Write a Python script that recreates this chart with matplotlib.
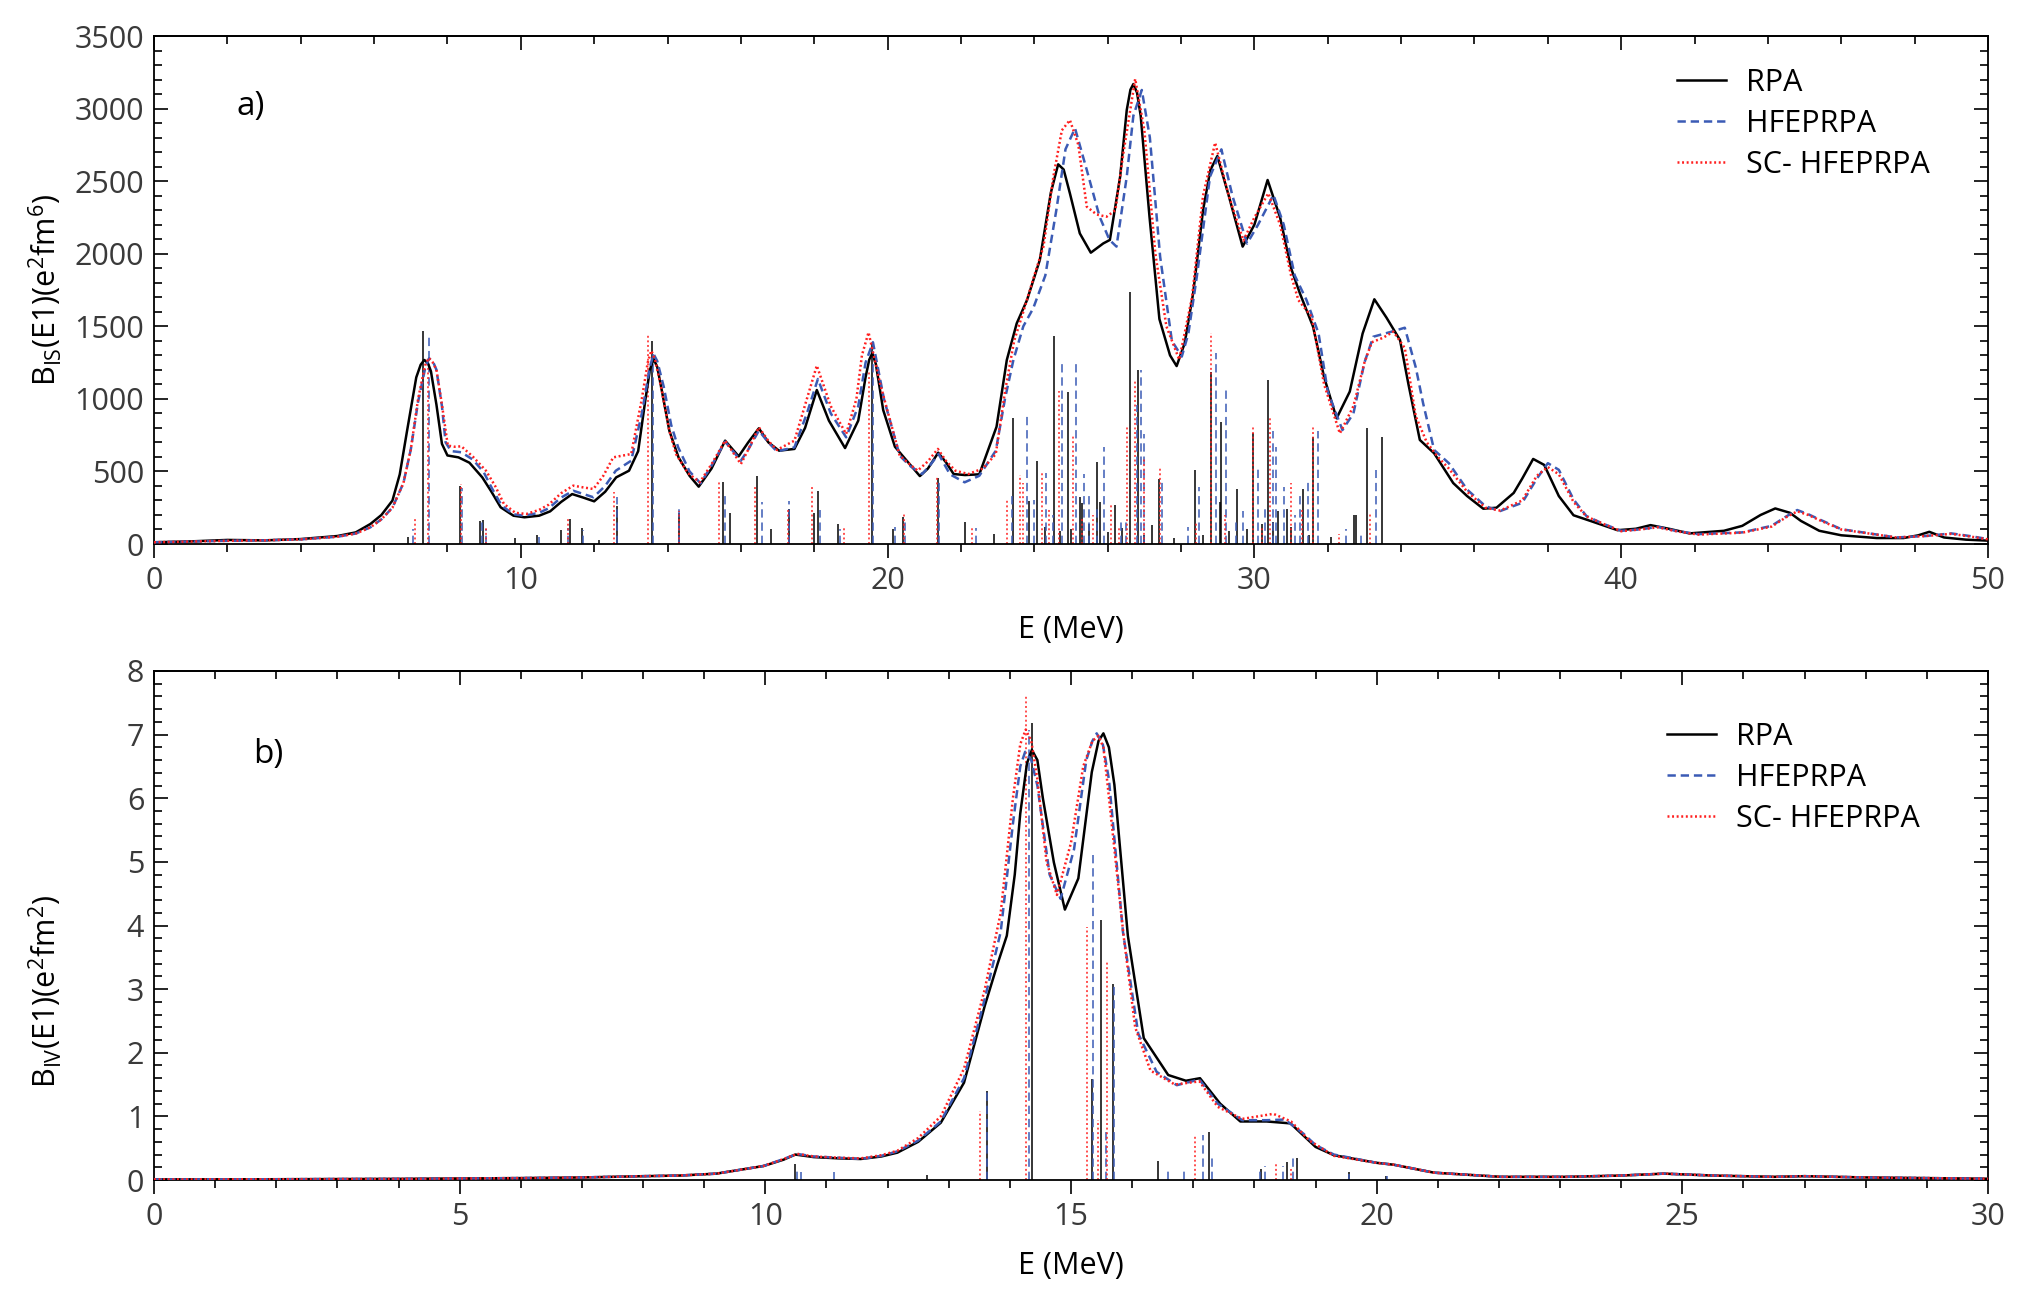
import matplotlib
matplotlib.use('Agg')
import matplotlib.pyplot as plt
from matplotlib.ticker import MultipleLocator

plt.rcParams['font.family'] = ['Open Sans', 'DejaVu Sans']
plt.rcParams['mathtext.default'] = 'regular'
plt.rcParams['lines.scale_dashes'] = False

BLUE = '#3b5bb5'
RED = '#ff1f1f'
DASH = (0, (6, 3.5))
DOT = (0, (1.4, 1.9))

# ---------------- panel a) isoscalar, smoothed curves ----------------
e_rpa_a = [0, 1, 2, 3, 4, 5, 5.5, 5.9, 6.2, 6.5, 6.7, 6.9, 7.15, 7.27, 7.37, 7.47, 7.55, 7.7, 7.85, 8.0, 8.3, 8.6,
           8.95, 9.2, 9.45, 9.8, 10.1, 10.5, 10.8, 11.1, 11.4, 11.7, 12.0, 12.3, 12.6, 12.95, 13.2, 13.4,
           13.52, 13.62, 13.72, 13.85, 14.05, 14.3, 14.6, 14.85, 15.2, 15.57, 15.94, 16.2, 16.49, 16.75, 17.04, 17.46,
           17.75, 18.07, 18.4, 18.84, 19.2, 19.4, 19.5, 19.58, 19.68, 19.88, 20.2, 20.4, 20.88, 21.1, 21.38, 21.6, 21.8,
           22.11, 22.5, 22.97, 23.25, 23.52, 23.8, 24.15, 24.45, 24.65, 24.8, 24.97, 25.24, 25.54, 25.88, 26.06,
           26.34, 26.52, 26.62, 26.7, 26.8, 26.9, 27.14, 27.41, 27.7, 27.88, 28.1, 28.33, 28.6, 28.8, 28.99, 29.3, 29.68,
           30.0, 30.36, 30.7, 31.0, 31.24, 31.6, 31.9, 32.24, 32.6, 32.95, 33.27, 33.6, 33.97, 34.2, 34.51,
           34.9, 35.42, 35.8, 36.24, 36.6, 37.07, 37.3, 37.6, 37.9, 38.3, 38.7, 39.16, 39.9, 40.4, 40.8,
           41.3, 41.86, 42.8, 43.3, 43.8, 44.2, 44.6, 44.9, 45.4, 46.0, 46.97, 47.7, 48.1, 48.4, 48.8, 49.4, 50]
b_rpa_a = [12, 18, 28, 25, 34, 55, 80, 138, 200, 299, 480, 781, 1148, 1235, 1268, 1245, 1190, 960, 690, 610, 597, 560,
           459, 360, 253, 195, 184, 195, 225, 290, 344, 320, 294, 360, 459, 505, 640, 1000,
           1200, 1275, 1220, 1050, 780, 597, 470, 395, 520, 712, 604, 700, 797, 700, 643, 655,
           800, 1061, 850, 661, 850, 1150, 1270, 1314, 1240, 923, 670, 610, 468, 520, 629, 560, 482,
           475, 480, 808, 1268, 1520, 1680, 1957, 2420, 2616, 2580, 2416, 2140, 2007, 2071, 2095,
           2531, 2990, 3130, 3169, 3110, 2950, 2255, 1550, 1300, 1226, 1384, 1727, 2300, 2577, 2673, 2400, 2049,
           2200, 2508, 2250, 1900, 1727, 1497, 1150, 866, 1050, 1450, 1686, 1560, 1405, 1100, 717,
           625, 420, 330, 243, 250, 352, 450, 586, 545, 330, 198, 159, 95, 105, 130,
           105, 73, 91, 125, 200, 245, 215, 159, 91, 60, 41, 41, 60, 84, 45, 30, 23]

e_hfe_a = [0, 1, 2, 3, 4, 5, 5.5, 5.9, 6.2, 6.5, 6.8, 7.0, 7.2, 7.4, 7.5, 7.6, 7.7, 7.85, 7.95, 8.1, 8.38, 8.7,
           8.99, 9.2, 9.48, 9.8, 10.09, 10.5, 10.76, 11.1, 11.43, 11.7, 11.98, 12.3, 12.59, 13.01, 13.3,
           13.52, 13.62, 13.72, 13.9, 14.1, 14.29, 14.6, 14.9, 15.2, 15.57, 16.0, 16.2, 16.49, 16.75, 16.98, 17.46, 17.8,
           18.1, 18.45, 18.87, 19.2, 19.4, 19.6, 19.9, 20.33, 20.6, 20.94, 21.15, 21.39, 21.7, 22.1, 22.5,
           22.95, 23.2, 23.43, 23.7, 23.97, 24.3, 24.6, 24.85, 25.11, 25.43, 25.78, 26.05, 26.24, 26.52,
           26.7, 26.93, 27.15, 27.43, 27.75, 28.02, 28.2, 28.43, 28.79, 29.1, 29.4, 29.8, 30.1, 30.52, 30.8,
           31.1, 31.42, 31.75, 32.0, 32.4, 32.7, 33.0, 33.24, 33.7, 34.1, 34.4, 34.6, 34.9, 35.3, 35.8,
           36.3, 36.7, 37.3, 37.7, 38.0, 38.3, 38.7, 39.05, 39.5, 40.0, 40.5, 41.0, 41.5, 42.1, 43.3, 44.1,
           44.5, 44.8, 45.1, 45.4, 46.0, 47.5, 48.3, 49.0, 49.5, 50]
b_hfe_a = [12, 17, 22, 25, 32, 50, 72, 115, 170, 250, 420, 650, 980, 1220, 1279, 1260, 1200, 950, 700, 640, 632, 580,
           494, 390, 264, 205, 195, 215, 246, 320, 367, 345, 322, 400, 505, 574, 900,
           1220, 1309, 1260, 1080, 820, 666, 500, 418, 540, 705, 574, 650, 781, 700, 638, 666, 900,
           1137, 900, 735, 950, 1250, 1390, 1000, 609, 540, 482, 540, 620, 480, 425, 470,
           643, 1000, 1268, 1500, 1624, 1850, 2300, 2720, 2864, 2577, 2255, 2095, 2049, 2531,
           2950, 3128, 2800, 1980, 1400, 1291, 1450, 1842, 2531, 2719, 2400, 2070, 2200, 2405, 2200,
           1850, 1681, 1450, 1050, 785, 900, 1250, 1428, 1460, 1490, 1216, 969, 648, 557, 375,
           260, 227, 284, 450, 557, 511, 307, 193, 140, 91, 100, 118, 90, 68, 80, 125,
           190, 234, 205, 170, 102, 45, 55, 73, 55, 34]

e_sc_a = [0, 1, 2, 3, 4, 5, 5.5, 5.9, 6.2, 6.5, 6.8, 7.0, 7.2, 7.39, 7.49, 7.59, 7.7, 7.85, 8.01, 8.2, 8.38, 8.7,
          9.05, 9.3, 9.54, 9.85, 10.15, 10.5, 10.76, 11.1, 11.43, 11.7, 11.98, 12.25, 12.52, 13.01, 13.3,
          13.46, 13.56, 13.66, 13.85, 14.05, 14.23, 14.55, 14.88, 15.2, 15.57, 16.0, 16.2, 16.49, 16.75, 16.98, 17.46,
          17.8, 18.07, 18.45, 18.87, 19.15, 19.3, 19.48, 19.8, 20.33, 20.6, 20.82, 21.1, 21.37, 21.6,
          21.85, 22.2, 22.6, 22.95, 23.2, 23.45, 23.7, 24.0, 24.25, 24.52, 24.75, 24.97, 25.2, 25.43,
          25.7, 25.97, 26.21, 26.42, 26.75, 27.0, 27.3, 27.6, 27.95, 28.3, 28.6, 28.93, 29.3, 29.7, 30.0,
          30.38, 30.7, 31.0, 31.2, 31.56, 31.9, 32.33, 32.7, 33.0, 33.2, 33.5, 33.79, 34.1, 34.4, 34.7,
          35.0, 35.3, 35.8, 36.3, 36.7, 37.3, 37.7, 38.0, 38.3, 38.7, 39.05, 39.5, 40.0, 40.5, 41.0,
          41.5, 42.1, 43.3, 44.1, 44.5, 44.8, 45.1, 45.4, 46.0, 47.5, 48.3, 49.0, 49.5, 50]
b_sc_a = [12, 17, 22, 25, 32, 50, 72, 115, 170, 250, 420, 650, 1000, 1230, 1282, 1255, 1200, 960, 678, 670, 673, 600,
          505, 400, 276, 215, 207, 235, 271, 350, 402, 390, 379, 470, 597, 620, 1000,
          1250, 1332, 1270, 1050, 780, 620, 490, 425, 550, 712, 551, 650, 804, 710, 648, 712,
          1000, 1229, 950, 758, 1000, 1300, 1458, 1100, 609, 550, 505, 570, 655, 570,
          505, 482, 520, 620, 1050, 1400, 1600, 1850, 2050, 2531, 2850, 2921, 2750, 2324,
          2270, 2255, 2300, 2680, 3204, 2850, 2000, 1500, 1270, 1700, 2400, 2765, 2400, 2090, 2250,
          2416, 2200, 1850, 1680, 1566, 1100, 762, 950, 1250, 1390, 1420, 1463, 1350, 880, 700,
          600, 520, 360, 250, 230, 300, 470, 530, 480, 290, 190, 140, 88, 100, 115,
          88, 65, 78, 120, 185, 225, 200, 165, 100, 45, 55, 70, 52, 32]

# ---------------- panel a) discrete strengths (sticks) ----------------
stk_rpa_a_e = [6.92, 7.34, 8.34, 8.88, 8.96, 9.85, 10.44, 11.09, 11.33, 11.67, 12.12, 12.62, 13.59, 14.31,
               15.51, 15.71, 16.44, 16.83, 17.30, 17.98, 18.11, 18.66, 19.57, 20.15, 20.43, 21.38, 22.11,
               22.9, 23.41, 23.86, 24.06, 24.3, 24.54, 24.7, 24.91, 25.0, 25.25, 25.3, 25.5, 25.72, 25.78,
               26.0, 26.2, 26.4, 26.61, 26.84, 27.0, 27.2, 27.41, 27.8, 28.38, 28.6, 28.83, 29.06, 29.09,
               29.3, 29.52, 29.8, 29.95, 30.2, 30.36, 30.5, 30.63, 30.9, 31.0, 31.32, 31.5, 31.59, 32.1,
               32.72, 32.76, 33.08, 33.47]
stk_rpa_a_b = [45, 1467, 400, 160, 168, 43, 65, 94, 173, 111, 31, 259, 1402, 216,
               429, 211, 471, 103, 241, 213, 367, 138, 1378, 103, 188, 452, 154,
               70, 866, 298, 570, 120, 1436, 90, 1047, 100, 326, 280, 140, 567, 290,
               80, 270, 110, 1739, 1199, 60, 130, 445, 40, 510, 60, 1186, 290, 843,
               90, 379, 100, 762, 140, 1130, 150, 230, 240, 120, 379, 60, 739, 45,
               200, 200, 797, 739]

stk_hfe_a_e = [7.05, 7.49, 8.41, 8.95, 9.05, 10.5, 11.3, 11.7, 12.62, 13.6, 14.3, 15.58, 16.57, 17.30,
               18.17, 18.7, 19.6, 20.21, 20.48, 21.4, 22.4, 23.39, 23.81, 24.0, 24.32, 24.5, 24.75, 25.13,
               25.36, 25.5, 25.7, 25.9, 26.35, 26.5, 26.8, 26.91, 27.0, 27.49, 28.2, 28.49, 28.95, 29.23,
               29.5, 29.7, 30.1, 30.3, 30.5, 30.6, 30.8, 31.1, 31.25, 31.45, 31.73, 32.5, 32.9, 33.31]
stk_hfe_a_b = [100, 1453, 387, 150, 105, 50, 110, 95, 321, 1311, 245, 344, 287, 298,
               234, 100, 1380, 120, 160, 452, 110, 330, 888, 300, 490, 200, 1250, 1250,
               480, 330, 250, 670, 150, 150, 960, 1199, 760, 452, 120, 395, 1313, 1071,
               150, 230, 540, 250, 781, 666, 395, 200, 350, 440, 781, 100, 80, 510]

stk_sc_a_e = [7.12, 7.47, 8.38, 9.04, 11.3, 12.54, 13.46, 14.3, 15.41, 16.39, 17.28, 17.95, 18.8, 19.48,
              20.45, 21.35, 22.3, 23.25, 23.61, 23.7, 24.2, 24.4, 24.67, 25.06, 25.3, 25.6, 26.1, 26.3,
              26.53, 26.75, 27.0, 27.43, 28.4, 28.83, 29.2, 29.95, 30.2, 30.42, 30.99, 31.3, 31.59, 32.3,
              33.15]
stk_sc_a_b = [188, 1280, 415, 117, 170, 358, 1439, 230, 429, 390, 241, 402, 120, 1194,
              210, 460, 120, 300, 475, 418, 500, 250, 1057, 760, 180, 200, 270, 120,
              820, 1120, 600, 521, 150, 1451, 200, 820, 120, 870, 418, 250, 808, 70,
              220]

# ---------------- panel b) isovector, smoothed curves ----------------
e_rpa_b = [0, 2, 4, 6, 7, 8, 8.6, 9.2, 9.97, 10.3, 10.49, 10.79, 11.2, 11.56, 11.9, 12.16, 12.5, 12.87,
           13.25, 13.59, 13.8, 13.95, 14.08, 14.17, 14.28, 14.36, 14.45, 14.54, 14.72, 14.9, 15.12, 15.34,
           15.45, 15.53, 15.62, 15.71, 15.93,
           16.19, 16.59, 16.88, 17.11, 17.44, 17.77, 18.2, 18.59, 19.0, 19.3, 20.0, 20.28, 20.94, 22.03,
           23.1, 24.0, 24.7, 25.5, 26.5, 27.0, 28.0, 30.0]
b_rpa_b = [0.01, 0.012, 0.018, 0.03, 0.04, 0.06, 0.07, 0.1, 0.22, 0.32, 0.40, 0.36, 0.34, 0.33, 0.37, 0.43,
           0.6, 0.9, 1.53, 2.74, 3.4, 3.84, 4.8, 5.76, 6.55, 6.76, 6.6, 6.0, 4.99, 4.25, 4.74, 6.41,
           6.9, 7.02, 6.8, 6.21, 3.84,
           2.23, 1.65, 1.56, 1.6, 1.2, 0.92, 0.92, 0.89, 0.52, 0.39, 0.27, 0.24, 0.115, 0.05,
           0.05, 0.07, 0.1, 0.07, 0.05, 0.06, 0.04, 0.02]

e_hfe_b = [0, 2, 4, 6, 7, 8, 8.6, 9.2, 9.97, 10.3, 10.52, 10.79, 11.2, 11.56, 11.9, 12.16, 12.5, 12.87,
           13.25, 13.59, 13.85, 14.05, 14.17, 14.25, 14.35, 14.45, 14.65, 14.83, 15.05, 15.25, 15.35, 15.42,
           15.52, 15.62, 15.85, 16.1,
           16.4, 16.73, 17.1, 17.4, 17.8, 18.2, 18.5, 18.8, 19.0, 19.3, 20.0, 20.28, 20.94, 22.03,
           23.1, 24.0, 24.7, 25.5, 26.5, 27.0, 28.0, 30.0]
b_hfe_b = [0.01, 0.012, 0.018, 0.03, 0.04, 0.06, 0.07, 0.1, 0.22, 0.33, 0.41, 0.37, 0.35, 0.33, 0.38, 0.45,
           0.62, 0.92, 1.6, 2.85, 3.9, 5.6, 6.5, 6.73, 6.6, 6.2, 4.8, 4.42, 5.2, 6.6, 6.9, 7.02,
           6.85, 6.3, 3.9, 2.3,
           1.7, 1.49, 1.58, 1.2, 0.94, 0.94, 0.95, 0.73, 0.55, 0.4, 0.27, 0.24, 0.115, 0.05,
           0.05, 0.07, 0.1, 0.07, 0.05, 0.06, 0.04, 0.02]

e_sc_b = [0, 2, 4, 6, 7, 8, 8.6, 9.2, 9.97, 10.3, 10.52, 10.79, 11.2, 11.56, 11.9, 12.16, 12.5, 12.87,
          13.25, 13.59, 13.85, 14.05, 14.17, 14.26, 14.35, 14.45, 14.6, 14.77, 15.0, 15.2, 15.35, 15.45,
          15.53, 15.6, 15.86, 16.05,
          16.3, 16.7, 17.1, 17.4, 17.8, 18.31, 18.6, 18.9, 19.3, 20.0, 20.28, 20.94, 22.03,
          23.1, 24.0, 24.7, 25.5, 26.5, 27.0, 28.0, 30.0]
b_sc_b = [0.01, 0.012, 0.018, 0.03, 0.04, 0.06, 0.07, 0.1, 0.22, 0.33, 0.41, 0.37, 0.35, 0.34, 0.39, 0.46,
          0.66, 1.0, 1.75, 3.0, 4.2, 6.0, 6.85, 7.08, 6.9, 6.3, 5.0, 4.48, 5.3, 6.5, 6.9, 6.98,
          6.8, 6.2, 3.84, 2.4,
          1.72, 1.5, 1.55, 1.15, 0.96, 1.04, 0.92, 0.62, 0.38, 0.27, 0.24, 0.115, 0.05,
          0.05, 0.07, 0.1, 0.07, 0.05, 0.06, 0.04, 0.02]

# ---------------- panel b) sticks ----------------
stk_rpa_b_e = [10.49, 12.65, 13.63, 14.36, 15.34, 15.49, 15.69, 16.43, 17.26, 18.1, 18.54, 18.70, 19.54, 20.16]
stk_rpa_b_b = [0.25, 0.08, 1.40, 7.19, 1.59, 4.09, 3.08, 0.30, 0.76, 0.17, 0.29, 0.34, 0.13, 0.06]
stk_hfe_b_e = [10.52, 10.58, 11.12, 13.63, 14.31, 15.36, 15.58, 15.70, 16.59, 16.85, 17.16, 17.3, 18.09,
               18.18, 18.46, 18.63, 19.55, 20.17]
stk_hfe_b_b = [0.19, 0.13, 0.13, 1.40, 7.08, 5.14, 0.8, 3.05, 0.16, 0.16, 0.71, 0.41, 0.15,
               0.22, 0.22, 0.36, 0.1, 0.07]
stk_sc_b_e = [13.51, 14.26, 15.26, 15.44, 15.59, 17.03, 18.36, 18.6]
stk_sc_b_b = [1.08, 7.63, 3.97, 0.94, 3.45, 0.69, 0.29, 0.18]

labels = ['RPA', 'HFEPRPA', 'SC- HFEPRPA']

W, H = 2018, 1292
fig = plt.figure(figsize=(W / 100, H / 100), dpi=100)
ax1 = fig.add_axes([154 / W, 1 - 544 / H, 1834 / W, 508 / H])
ax2 = fig.add_axes([154 / W, 1 - 1180 / H, 1834 / W, 509 / H])


def draw(ax, curves, sticks, xmax, xmaj, xmin, ymax, ymaj, ymin):
    (er, br), (eh, bh), (es, bs) = sticks
    ax.vlines(er, 0, br, colors='black', lw=1.1, zorder=2)
    ax.vlines(eh, 0, bh, colors=BLUE, lw=1.1, linestyles=[DASH], zorder=2)
    ax.vlines(es, 0, bs, colors=RED, lw=1.1, linestyles=[DOT], zorder=2)
    (cr, dr), (ch, dh), (cs, ds) = curves
    ax.plot(cr, dr, color='black', lw=1.8, label=labels[0], zorder=3)
    ax.plot(ch, dh, color=BLUE, lw=1.8, linestyle=DASH, label=labels[1], zorder=3)
    ax.plot(cs, ds, color=RED, lw=1.8, linestyle=DOT, label=labels[2], zorder=4)
    ax.set_xlim(0, xmax)
    ax.set_ylim(0, ymax)
    ax.xaxis.set_major_locator(MultipleLocator(xmaj))
    ax.xaxis.set_minor_locator(MultipleLocator(xmin))
    ax.yaxis.set_major_locator(MultipleLocator(ymaj))
    ax.yaxis.set_minor_locator(MultipleLocator(ymin))
    ax.tick_params(axis='x', which='both', direction='out', colors='black', labelcolor='#3a3a3a',
                   labelsize=22, pad=6, width=1.2)
    ax.tick_params(axis='x', which='major', length=10)
    ax.tick_params(axis='x', which='minor', length=5.5)
    ax.tick_params(axis='y', which='both', direction='in', left=True, right=True,
                   labelcolor='#3a3a3a', labelsize=22, pad=7, width=1.2)
    ax.tick_params(axis='y', which='major', length=10)
    ax.tick_params(axis='y', which='minor', length=6)
    top = ax.secondary_xaxis('top')
    top.xaxis.set_major_locator(MultipleLocator(xmaj))
    top.xaxis.set_minor_locator(MultipleLocator(xmin))
    top.tick_params(axis='x', which='both', direction='in', labeltop=False, width=1.2)
    top.tick_params(axis='x', which='major', length=10)
    top.tick_params(axis='x', which='minor', length=6)
    for sp in list(ax.spines.values()) + [top.spines['top']]:
        sp.set_linewidth(1.3)


draw(ax1, [(e_rpa_a, b_rpa_a), (e_hfe_a, b_hfe_a), (e_sc_a, b_sc_a)],
     [(stk_rpa_a_e, stk_rpa_a_b), (stk_hfe_a_e, stk_hfe_a_b), (stk_sc_a_e, stk_sc_a_b)],
     50, 10, 2, 3500, 500, 100)
draw(ax2, [(e_rpa_b, b_rpa_b), (e_hfe_b, b_hfe_b), (e_sc_b, b_sc_b)],
     [(stk_rpa_b_e, stk_rpa_b_b), (stk_hfe_b_e, stk_hfe_b_b), (stk_sc_b_e, stk_sc_b_b)],
     30, 5, 1, 8, 1, 0.2)

leg_kw = dict(frameon=False, fontsize=22, handlelength=1.6, handletextpad=0.65,
              labelspacing=0.36, borderpad=0, borderaxespad=0, loc='upper left')
ax1.legend(bbox_to_anchor=((1677 - 154) / 1834, (544 - 68) / 508), **leg_kw)
ax2.legend(bbox_to_anchor=((1667 - 154) / 1834, (1180 - 722) / 509), **leg_kw)

fig.text(251 / W, 1 - 107 / H, 'a)', fontsize=24, ha='center', va='center')
fig.text(268 / W, 1 - 755 / H, 'b)', fontsize=24, ha='center', va='center')

fig.text(1071 / W, 1 - 630 / H, 'E (MeV)', fontsize=22, ha='center', va='center')
fig.text(1071 / W, 1 - 1266 / H, 'E (MeV)', fontsize=22, ha='center', va='center')
fig.text(45 / W, 1 - 290 / H, 'B$_{IS}$(E1)(e$^2$fm$^6$)', fontsize=22, rotation=90,
         ha='center', va='center')
fig.text(45 / W, 1 - 991 / H, 'B$_{IV}$(E1)(e$^2$fm$^2$)', fontsize=22, rotation=90,
         ha='center', va='center')

fig.savefig('out.png', dpi=100)
